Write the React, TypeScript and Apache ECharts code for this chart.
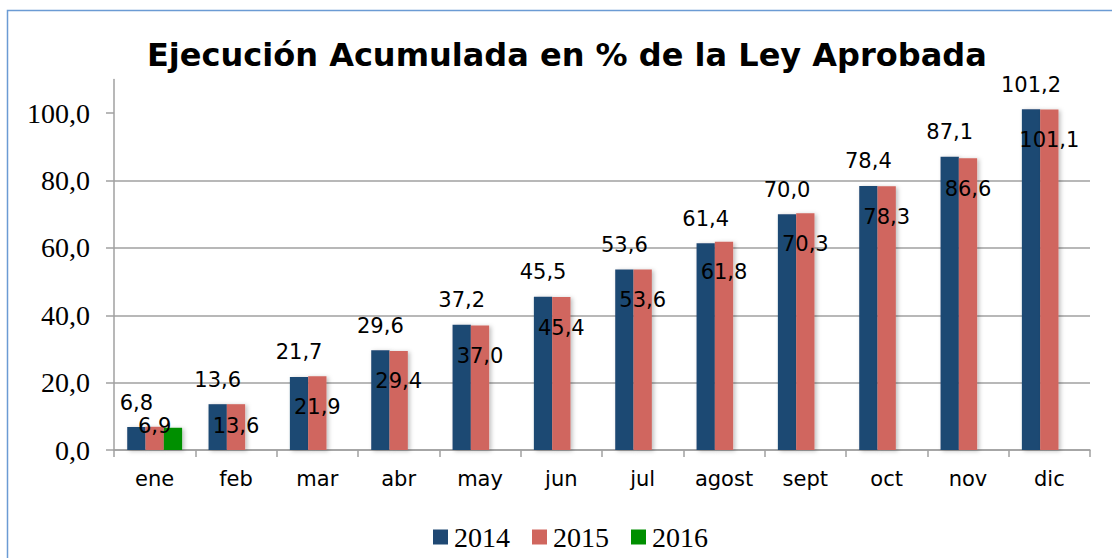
import React, { useEffect, useRef } from "react";
import * as echarts from "echarts";

const categories = ["ene", "feb", "mar", "abr", "may", "jun", "jul", "agost", "sept", "oct", "nov", "dic"];
const serie2014 = [6.8, 13.6, 21.7, 29.6, 37.2, 45.5, 53.6, 61.4, 70.0, 78.4, 87.1, 101.2];
const serie2015 = [6.9, 13.6, 21.9, 29.4, 37.0, 45.4, 53.6, 61.8, 70.3, 78.3, 86.6, 101.1];
const serie2016: (number | null)[] = [6.6, null, null, null, null, null, null, null, null, null, null, null];
const yTicks = [0, 20, 40, 60, 80, 100];
const seriesNames = ["2014", "2015", "2016"];

const fmt = (v: number) => v.toFixed(1).replace(".", ",");

// label nudges for short bars (Excel fits inside-end labels differently)
const label2015Offsets: Record<number, number> = { 0: -31, 1: -9 };

export default function App() {
  const ref = useRef<HTMLDivElement>(null);
  useEffect(() => {
    if (!ref.current) return;
    const chart = echarts.init(ref.current, null, { renderer: "svg" });
    const labelFont = { fontFamily: "DejaVu Sans", fontSize: 21, color: "#000" };
    const shadow = { shadowBlur: 4, shadowColor: "rgba(0,0,0,0.25)", shadowOffsetX: 2, shadowOffsetY: 1 };
    chart.setOption({
      animation: false,
      title: {
        text: "Ejecución Acumulada en % de la Ley Aprobada",
        left: 147,
        top: 39,
        padding: 0,
        textStyle: { fontFamily: "DejaVu Sans", fontWeight: "bold", fontSize: 32, color: "#000" },
      },
      legend: {
        left: 433,
        top: 523,
        padding: 0,
        itemWidth: 15,
        itemHeight: 15,
        itemGap: 22,
        icon: "rect",
        data: seriesNames,
        textStyle: { fontFamily: "Liberation Serif", fontSize: 28, color: "#000", padding: [0, 0, 0, 1] },
      },
      graphic: [
        {
          type: "rect",
          shape: { x: 7.5, y: 10.5, width: 1300, height: 800 },
          style: { fill: "none", stroke: "#6b9bd4", lineWidth: 1.5 },
          silent: true,
          z: 100,
        },
      ],
      grid: { left: 114, right: 22, top: 79.5, bottom: 108, containLabel: false },
      xAxis: {
        type: "category",
        data: categories,
        axisLine: { show: true, lineStyle: { color: "#a0a0a0", width: 1.5 } },
        axisTick: { show: true, length: 7, alignWithLabel: false, lineStyle: { color: "#a0a0a0", width: 1.5 } },
        axisLabel: { margin: 18, fontFamily: "DejaVu Sans", fontSize: 21, color: "#000" },
      },
      yAxis: {
        type: "value",
        min: 0,
        max: 110,
        interval: 20,
        axisLine: { show: true, lineStyle: { color: "#a0a0a0", width: 1.5 } },
        axisTick: { show: true, length: 8, customValues: yTicks, lineStyle: { color: "#a0a0a0", width: 1.5 } },
        axisLabel: {
          margin: 24,
          customValues: yTicks,
          fontFamily: "Liberation Serif",
          fontSize: 28,
          color: "#000",
          formatter: (v: number) => fmt(v),
        },
        splitLine: { show: true, showMaxLine: false, lineStyle: { color: "#a0a0a0", width: 1.5 } },
      },
      series: [
        {
          name: "2014",
          type: "bar",
          data: serie2014,
          barWidth: 18.3,
          barGap: "0%",
          itemStyle: { color: "#1f4873", ...shadow },
          label: { show: true, position: "top", distance: 14, formatter: (p: any) => fmt(p.value), ...labelFont },
        },
        {
          name: "2015",
          type: "bar",
          data: serie2015.map((v, i) =>
            label2015Offsets[i] !== undefined ? { value: v, label: { offset: [0, label2015Offsets[i]] } } : v
          ),
          barWidth: 18.3,
          barGap: "0%",
          itemStyle: { color: "#d0665e", ...shadow },
          label: { show: true, position: "insideTop", distance: 20, formatter: (p: any) => fmt(p.value), ...labelFont },
        },
        {
          name: "2016",
          type: "bar",
          data: serie2016,
          barWidth: 18.3,
          barGap: "0%",
          itemStyle: { color: "#008f00", ...shadow },
        },
      ],
    });
    return () => chart.dispose();
  }, []);
  return <div ref={ref} style={{ position: "fixed", left: 0, top: 0, width: 1112, height: 558, background: "#fff" }} />;
}
